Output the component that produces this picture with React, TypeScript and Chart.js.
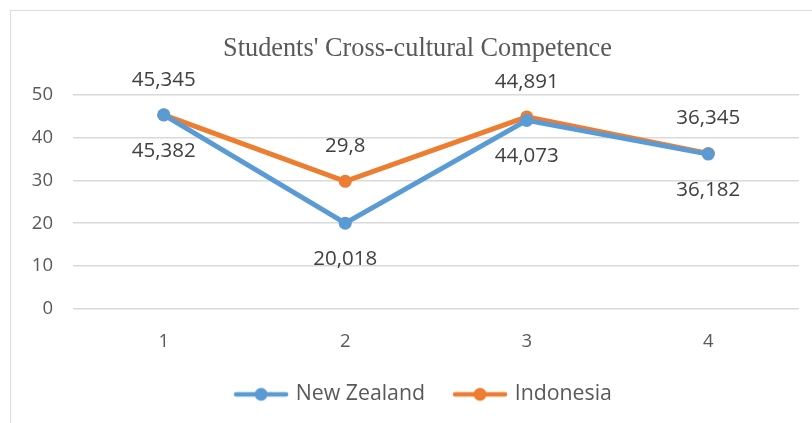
import React, { useEffect, useRef } from "react";
import { Chart, registerables } from "chart.js";

Chart.register(...registerables);

const categories = ["1", "2", "3", "4"];
const newZealand = [45.382, 20.018, 44.073, 36.182];
const indonesia = [45.345, 29.8, 44.891, 36.345];
const nzLabels = ["45,382", "20,018", "44,073", "36,182"];
const idLabels = ["45,345", "29,8", "44,891", "36,345"];
const yTicks = [0, 10, 20, 30, 40, 50];

const BLUE = "#5B9BD5";
const ORANGE = "#ED7D31";
const TEXT = "#595959";

function legendIcon(color: string) {
  const c = document.createElement("canvas");
  c.width = 56;
  c.height = 16;
  const ctx = c.getContext("2d")!;
  ctx.strokeStyle = color;
  ctx.lineWidth = 4.5;
  ctx.lineCap = "round";
  ctx.beginPath();
  ctx.moveTo(3, 8);
  ctx.lineTo(53, 8);
  ctx.stroke();
  ctx.fillStyle = color;
  ctx.beginPath();
  ctx.arc(28, 8, 6.5, 0, Math.PI * 2);
  ctx.fill();
  return c;
}

const labelPlugin = {
  id: "valueLabels",
  afterLayout(chart: any) {
    // the reference centres title and legend on the bordered frame, not the canvas
    if (chart.titleBlock) {
      chart.titleBlock.left += 13;
      chart.titleBlock.right += 13;
    }
    if (chart.legend) {
      chart.legend.left += 20;
      chart.legend.right += 20;
    }
  },
  afterDatasetsDraw(chart: any) {
    const ctx = chart.ctx;
    ctx.save();
    ctx.font = "20.5px 'Open Sans'";
    ctx.fillStyle = "#404040";
    ctx.textAlign = "center";
    ctx.textBaseline = "middle";
    const sets = [
      { idx: 0, labels: nzLabels, dy: 36 },
      { idx: 1, labels: idLabels, dy: -35 },
    ];
    sets.forEach((s) => {
      const meta = chart.getDatasetMeta(s.idx);
      meta.data.forEach((pt: any, i: number) => {
        ctx.fillText(s.labels[i], pt.x, pt.y + s.dy);
      });
    });
    ctx.restore();
  },
};

export default function App() {
  const ref = useRef<HTMLCanvasElement>(null);
  useEffect(() => {
    if (!ref.current) return;
    const icons = [legendIcon(BLUE), legendIcon(ORANGE)];
    const chart = new Chart(ref.current, {
      type: "line",
      data: {
        labels: categories,
        datasets: [
          {
            label: "New Zealand",
            data: newZealand,
            borderColor: BLUE,
            backgroundColor: BLUE,
            borderWidth: 5,
            pointRadius: 6.5,
            pointHoverRadius: 6.5,
            pointBorderWidth: 0,
          },
          {
            label: "Indonesia",
            data: indonesia,
            borderColor: ORANGE,
            backgroundColor: ORANGE,
            borderWidth: 5,
            pointRadius: 6.5,
            pointHoverRadius: 6.5,
            pointBorderWidth: 0,
          },
        ],
      },
      options: {
        animation: false,
        responsive: false,
        layout: { padding: { left: 10, right: 13, top: 0, bottom: 8 } },
        plugins: {
          tooltip: { enabled: false },
          title: {
            display: true,
            text: "Students' Cross-cultural Competence",
            color: TEXT,
            font: { family: "'Liberation Serif'", size: 26.3, weight: "normal" },
            padding: { top: 33, bottom: 30.5 },
          },
          legend: {
            position: "bottom",
            labels: {
              color: TEXT,
              font: { family: "'Open Sans'", size: 21.3 },
              usePointStyle: true,
              pointStyleWidth: 48,
              boxHeight: 14,
              padding: 31,
              generateLabels: (c: any) =>
                c.data.datasets.map((d: any, i: number) => ({
                  text: d.label,
                  pointStyle: icons[i],
                  fillStyle: d.borderColor,
                  strokeStyle: d.borderColor,
                  lineWidth: 0,
                  fontColor: TEXT,
                  datasetIndex: i,
                  hidden: false,
                })),
            },
          },
        },
        scales: {
          x: {
            offset: true,
            grid: { display: false, drawTicks: false },
            border: { display: false },
            ticks: {
              color: TEXT,
              font: { family: "'Open Sans'", size: 18.5 },
              padding: 22,
            },
            afterFit: (a: any) => {
              a.height = 44;
            },
          },
          y: {
            min: 0,
            max: 50,
            afterBuildTicks: (a: any) => {
              a.ticks = yTicks.map((v) => ({ value: v }));
            },
            grid: { color: "#d9d9d9", lineWidth: 1.5, drawTicks: false },
            border: { display: false },
            ticks: {
              color: TEXT,
              font: { family: "'Open Sans'", size: 18.5 },
              padding: 20,
            },
            afterFit: (a: any) => {
              a.width = 63;
            },
          },
        },
      },
      plugins: [labelPlugin],
    });
    return () => chart.destroy();
  }, []);

  return (
    <div style={{ position: "absolute", left: 0, top: 0, width: 812, height: 423, background: "#fff", overflow: "hidden" }}>
      <div
        style={{
          position: "absolute",
          left: 10,
          top: 10,
          width: 820,
          height: 430,
          border: "1.5px solid #dcdcdc",
        }}
      />
      <canvas ref={ref} width={812} height={423} style={{ position: "absolute", left: 0, top: 0 }} />
    </div>
  );
}
